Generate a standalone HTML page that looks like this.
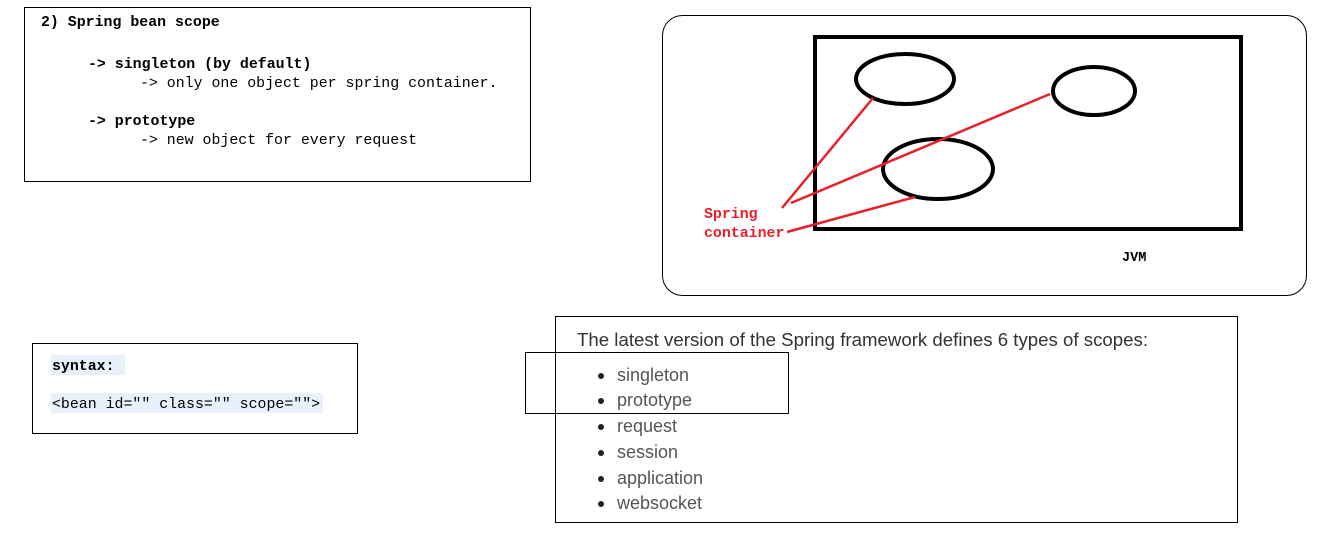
<!DOCTYPE html>
<html><head><meta charset="utf-8"><style>
html,body{margin:0;padding:0;background:#fff;width:1339px;height:552px;overflow:hidden}
.mono{font-family:"Liberation Mono",monospace}
</style></head><body>
<svg width="1339" height="552" xmlns="http://www.w3.org/2000/svg" style="position:absolute;left:0;top:0">
<rect x="24.5" y="7.5" width="506" height="174" fill="#fff" stroke="#000" stroke-width="1"/>
<g class="mono" font-size="14.9" fill="#000">
<text x="41" y="26" font-weight="bold">2) Spring bean scope</text>
<text x="88" y="68" font-weight="bold">-&gt; singleton (by default)</text>
<text x="140" y="87">-&gt; only one object per spring container.</text>
<text x="88" y="125" font-weight="bold">-&gt; prototype</text>
<text x="140" y="144">-&gt; new object for every request</text>
</g>
<rect x="32.5" y="343.5" width="325" height="90" fill="#fff" stroke="#000"/>
<rect x="51" y="355" width="74" height="20" fill="#e8f1fb"/>
<rect x="51" y="393" width="272" height="20" fill="#e8f1fb"/>
<g class="mono" font-size="14.9" fill="#000">
<text x="52" y="370" font-weight="bold">syntax:</text>
<text x="52" y="408">&lt;bean id="" class="" scope=""&gt;</text>
</g>
<rect x="662.5" y="15.5" width="644" height="280" rx="20" fill="#fff" stroke="#000"/>
<rect x="815" y="37" width="426" height="192" fill="none" stroke="#000" stroke-width="4"/>
<g fill="none" stroke="#000" stroke-width="4">
<ellipse cx="905" cy="79" rx="49" ry="25"/>
<ellipse cx="1094" cy="91" rx="41" ry="24"/>
<ellipse cx="938" cy="169" rx="55" ry="30"/>
</g>
<g stroke="#e8202a" stroke-width="2.5">
<line x1="782" y1="208" x2="873" y2="98"/>
<line x1="791" y1="203" x2="1050" y2="94"/>
<line x1="787" y1="232" x2="915" y2="197"/>
</g>
<g class="mono" font-size="14.9" font-weight="bold">
<text x="704" y="218" fill="#e8202a">Spring</text>
<text x="704" y="237" fill="#e8202a">container</text>
<text x="1122" y="261" fill="#000" font-size="13.5">JVM</text>
</g>
<rect x="555.5" y="316.5" width="682" height="206" fill="#fff" stroke="#000"/>
<g font-family="Liberation Sans, sans-serif" font-size="18" fill="#555">
<text x="577" y="346" fill="#333" textLength="571" lengthAdjust="spacingAndGlyphs">The latest version of the Spring framework defines 6 types of scopes:</text>
<text x="617" y="381">singleton</text>
<text x="617" y="406">prototype</text>
<text x="617" y="432">request</text>
<text x="617" y="458">session</text>
<text x="617" y="484">application</text>
<text x="617" y="509">websocket</text>
</g>
<g fill="#222">
<circle cx="601" cy="376" r="3"/><circle cx="601" cy="401" r="3"/><circle cx="601" cy="427" r="3"/>
<circle cx="601" cy="453" r="3"/><circle cx="601" cy="479" r="3"/><circle cx="601" cy="504" r="3"/>
</g>
<rect x="525.5" y="352.5" width="263" height="61" fill="none" stroke="#000"/>
</svg>
</body></html>
